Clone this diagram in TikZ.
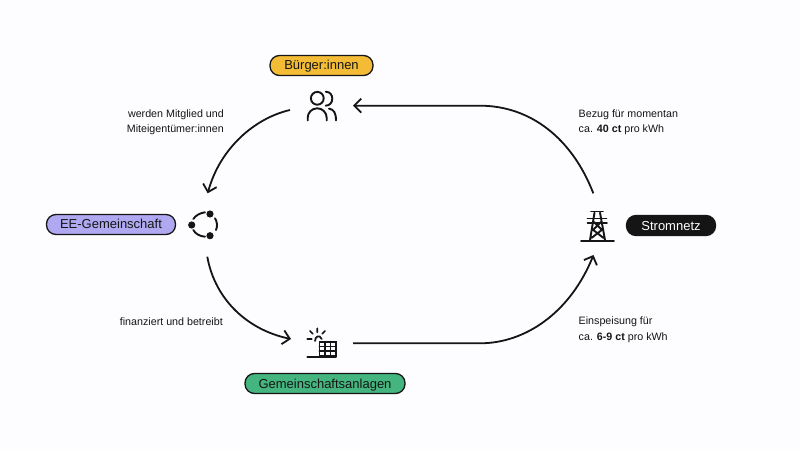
\documentclass[tikz,border=0pt]{standalone}
\usepackage{fontspec}
\setmainfont{Liberation Sans}
\usetikzlibrary{arrows.meta}
\definecolor{bgc}{HTML}{FDFCFF}
\definecolor{ink}{HTML}{151515}
\definecolor{pillyellow}{HTML}{F4BC36}
\definecolor{pillviolet}{HTML}{B0A8F0}
\definecolor{pillgreen}{HTML}{45B57F}
\tikzset{
  x=1pt,y=-1pt,
  pill/.style={draw=ink,line width=1.3pt,rounded corners=9.5pt,minimum height=20pt,inner sep=0pt,text height=11pt,text depth=2pt,font=\fontsize{13}{15}\selectfont,text=ink},
  captext/.style={font=\fontsize{10.7}{15.5}\selectfont,text=ink,inner sep=0pt},
  flow/.style={draw=ink,line width=1.8pt,-{Straight Barb[length=7pt,width=14pt,line width=1.8pt]}},
  icon/.style={draw=ink,line width=1.9pt,line cap=round}
}
\begin{document}
\begin{tikzpicture}
\useasboundingbox (0,0) rectangle (800,449);
\fill[bgc] (0,0) rectangle (800,449);
% pills
\node[pill,fill=pillyellow,minimum width=103pt] (buerger) at (321.5,65.5) {Bürger:innen};
\node[pill,fill=pillviolet,minimum width=129pt] (ee) at (111,224.5) {EE-Gemeinschaft};
\node[pill,fill=pillgreen,minimum width=160pt] (anlagen) at (325,383.5) {Gemeinschaftsanlagen};
\node[pill,fill=ink,text=white,minimum width=89pt] (netz) at (671,225.5) {Stromnetz};
% anchors
\coordinate (b1) at (290,110);
\coordinate (b2) at (353,105.7);
\coordinate (e1) at (207.7,193.3);
\coordinate (e2) at (207.3,256.7);
\coordinate (g1) at (291,339);
\coordinate (g2) at (353,343.3);
\coordinate (n1) at (593.5,255);
\coordinate (n2) at (593.3,193.3);
% connectors
\draw[flow] (b1) .. controls (255,118) and (220,148) .. (e1);
\draw[flow] (e2) .. controls (215,300) and (248,330) .. (g1);
\draw[flow] (g2) -- (480,343.3) .. controls (525,343.3) and (570,313) .. (n1);
\draw[flow] (n2) .. controls (572,138) and (530,105.7) .. (480,105.7) -- (b2);
% texts
\node[captext,anchor=east,align=right] (t1) at (224,122) {werden Mitglied und\\Miteigentümer:innen};
\node[captext,anchor=east,align=right] (t2) at (223,321.5) {finanziert und betreibt};
\node[captext,anchor=west,align=left] (t3) at (578.5,122) {Bezug für momentan\\ca. \textbf{40 ct} pro kWh};
\node[captext,anchor=west,align=left] (t4) at (578.5,329.5) {Einspeisung für\\ca. \textbf{6-9 ct} pro kWh};
% people icon
\draw[icon] (317.3,98.3) circle (6.4);
\draw[icon] (307.7,120.5) -- (307.7,117.8) arc[start angle=180,end angle=360,radius=9.5] -- (326.7,120.5);
\draw[icon] (325.7,91.7) .. controls (334.5,91.7) and (334.5,105.5) .. (325.7,105.7);
\draw[icon] (329,108.6) .. controls (334,109.5) and (336,113) .. (336,120.5);
% community icon
\draw[icon] (205,212.3) .. controls (200,213) and (195.5,215.5) .. (193.3,219);
\draw[icon] (215,218.3) .. controls (217.5,222) and (217.5,227) .. (216,230);
\draw[icon] (193.3,230) .. controls (195.5,234) and (200,236.3) .. (205,236.7);
\fill[ink] (210,214) circle (3.6) (210,235.7) circle (3.6) (191.7,225) circle (3.6);
% solar icon
\draw[icon] (307.3,356.7) -- (336,356.7);
\draw[icon,line width=1.6pt] (319.3,341.7) rectangle (336,356);
\draw[icon,line width=1.5pt] (319.3,346.4) -- (336,346.4) (319.3,351) -- (336,351) (324.9,341.7) -- (324.9,356) (330.5,341.7) -- (330.5,356);
\draw[icon,line width=1.7pt] (315,341) .. controls (315,336.5) and (319.5,334) .. (321.7,339);
\draw[icon,line width=1.7pt] (307.3,339) -- (311.7,339) (310,331) -- (312.7,333.7) (317.3,328.3) -- (317.3,332.3) (325,331) -- (322.3,333.7);
% tower icon
\draw[icon] (581,240.7) -- (614,240.7);
\draw[icon] (591,211.5) -- (603,211.5);
\draw[icon] (587.5,218.5) -- (606.5,218.5) (587.5,223) -- (607,223);
\draw[icon,line width=1.9pt] (594.5,212.7) -- (590,240) (600,212.7) -- (605,240) (592,229) -- (603.5,238) (603,229) -- (591.5,238) (594,222) -- (601,229) (601,222) -- (594,229);
\end{tikzpicture}
\end{document}
